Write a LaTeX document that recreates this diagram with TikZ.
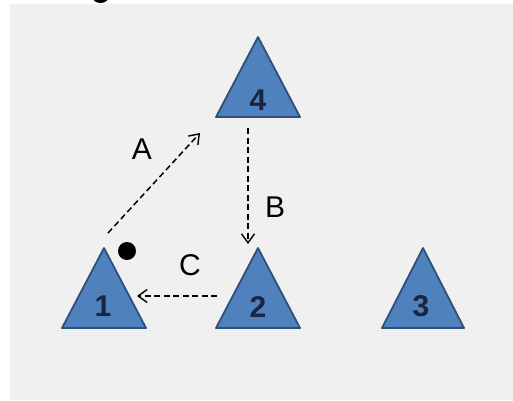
\documentclass[tikz,border=0pt]{standalone}
\usepackage{fontspec}
\setmainfont{Liberation Sans}
\usetikzlibrary{arrows.meta}
\definecolor{bggray}{HTML}{F0F0F0}
\definecolor{trifill}{HTML}{4F81BD}
\definecolor{triedge}{HTML}{2F4F7A}
\definecolor{numcol}{HTML}{1A2540}
\tikzset{
  tri/.style={fill=trifill, draw=triedge, line width=1.8pt, line join=round},
  num/.style={font=\fontsize{30}{30}\selectfont\bfseries, text=numcol, inner sep=0pt},
  lbl/.style={font=\fontsize{30}{30}\selectfont, text=black, inner sep=0pt},
  link/.style={draw=black, dashed, dash pattern=on 6pt off 3.5pt, line width=1.5pt,
    -{Straight Barb[length=9pt,width=13pt,line width=1.4pt]}}
}
\begin{document}
\begin{tikzpicture}[x=1pt,y=-1pt]
\useasboundingbox (0,0) rectangle (513,400);
\fill[white] (0,0) rectangle (513,400);
\fill[bggray] (10,4) rectangle (513,400);
% clipped glyph at top
\begin{scope}
\clip (0,0) rectangle (513,4);
\fill[black] (100.5,-3) ellipse (8 and 6);
\end{scope}
% triangles
\draw[tri] (216,117) -- (258,37) -- (300,117) -- cycle;
\draw[tri] (62,328) -- (104,248) -- (146,328) -- cycle;
\draw[tri] (216,328) -- (258,248) -- (300,328) -- cycle;
\draw[tri] (382,328) -- (423,248) -- (464,328) -- cycle;
% numbers
\node[num] (n4) at (258,100) {4};
\node[num] (n1) at (103,306) {1};
\node[num] (n2) at (258,307) {2};
\node[num] (n3) at (421,306) {3};
% dot
\fill[black] (127,251) circle (9);
% arrows
\coordinate (a1) at (108,233);
\coordinate (a2) at (200,133);
\coordinate (b1) at (248,128);
\coordinate (b2) at (248,244);
\coordinate (c1) at (217,296);
\coordinate (c2) at (137,296);
\draw[link] (a1) -- (a2);
\draw[link] (b1) -- (b2);
\draw[link] (c1) -- (c2);
% labels
\node[lbl] (la) at (142,149) {A};
\node[lbl] (lb) at (275,207) {B};
\node[lbl] (lc) at (190,265) {C};
\end{tikzpicture}
\end{document}
